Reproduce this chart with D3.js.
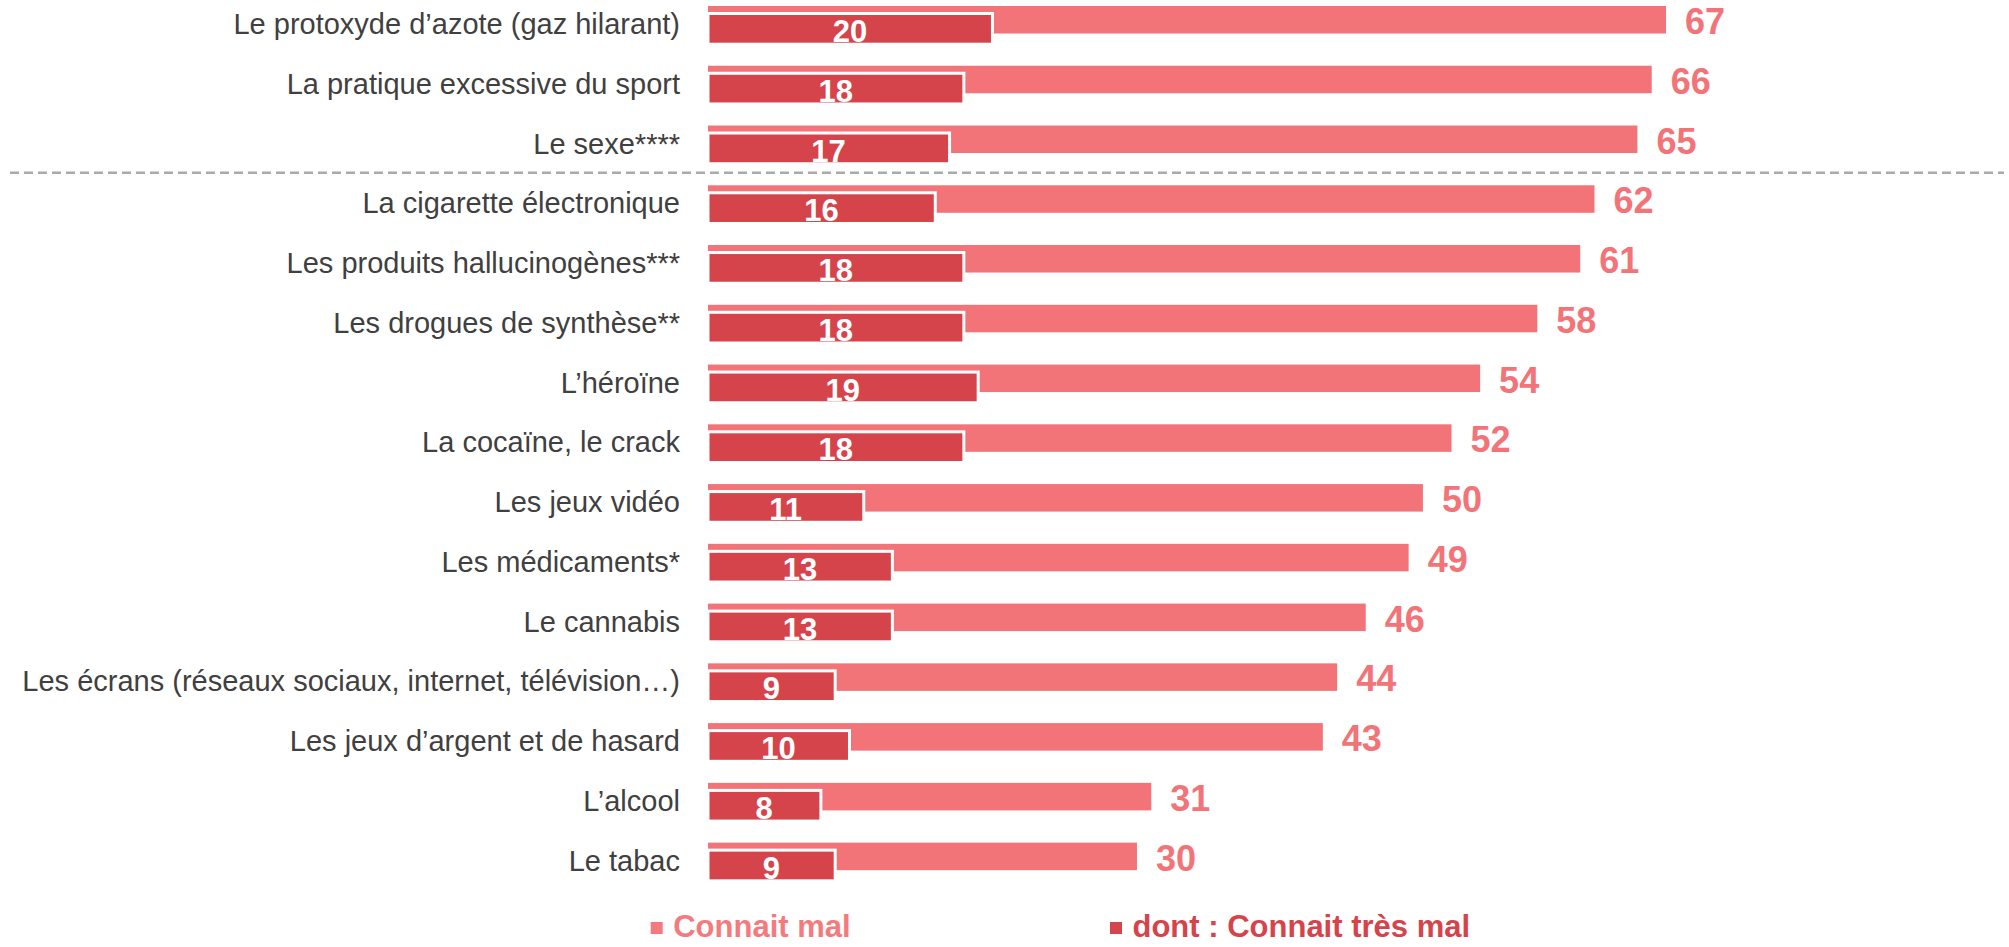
<!DOCTYPE html>
<html>
<head>
<meta charset="utf-8">
<script src="https://cdn.jsdelivr.net/npm/d3@7"></script>
<style>
  body { margin: 0; background: #fff; }
  svg { display: block; font-family: "Liberation Sans", Arial, sans-serif; }
</style>
</head>
<body>
<div id="bar-chart"></div>
<script>
var categories = [
    "Le protoxyde d\u2019azote (gaz hilarant)",
    "La pratique excessive du sport",
    "Le sexe****",
    "La cigarette \u00e9lectronique",
    "Les produits hallucinog\u00e8nes***",
    "Les drogues de synth\u00e8se**",
    "L\u2019h\u00e9ro\u00efne",
    "La coca\u00efne, le crack",
    "Les jeux vid\u00e9o",
    "Les m\u00e9dicaments*",
    "Le cannabis",
    "Les \u00e9crans (r\u00e9seaux sociaux, internet, t\u00e9l\u00e9vision\u2026)",
    "Les jeux d\u2019argent et de hasard",
    "L\u2019alcool",
    "Le tabac"
];
var connaitMal = [67, 66, 65, 62, 61, 58, 54, 52, 50, 49, 46, 44, 43, 31, 30];
var connaitTresMal = [20, 18, 17, 16, 18, 18, 19, 18, 11, 13, 13, 9, 10, 8, 9];
var seriesNames = ["Connait mal", "dont : Connait tr\u00e8s mal"];

var lightColor = "#f27378",
    darkColor = "#d6444b";

var width = 2009, height = 947;

var data = categories.map(function (c, i) {
    return { cat: c, mal: connaitMal[i], tresMal: connaitTresMal[i] };
});

var svg = d3.select("#bar-chart").append("svg")
    .attr("width", width)
    .attr("height", height);

// bars start at x=708, 67 reaches ~1666
var x = d3.scaleLinear()
    .domain([0, 67])
    .range([708, 1666]);

var y = d3.scaleBand()
    .domain(categories)
    .range([6, 6 + 15 * 59.76])
    .padding(0);

// dashed separator after the third item
svg.append("line")
    .attr("x1", 10)
    .attr("x2", 2004)
    .attr("y1", 172.7)
    .attr("y2", 172.7)
    .attr("stroke", "#aaaaaa")
    .attr("stroke-width", 2.5)
    .attr("stroke-dasharray", "9,5");

var rows = svg.selectAll(".row")
    .data(data)
    .enter().append("g")
    .attr("class", "row")
    .attr("transform", function (d) { return "translate(0," + y(d.cat) + ")"; });

rows.append("text")
    .attr("x", 680)
    .attr("y", 28)
    .attr("text-anchor", "end")
    .attr("fill", "#404040")
    .style("font-size", "29px")
    .text(function (d) { return d.cat; });

rows.append("rect")
    .attr("class", "bar")
    .attr("x", x(0))
    .attr("y", 0)
    .attr("width", function (d) { return x(d.mal) - x(0); })
    .attr("height", 27.5)
    .attr("fill", lightColor);

rows.append("rect")
    .attr("class", "bar-dark")
    .attr("x", x(0))
    .attr("y", 7.5)
    .attr("width", function (d) { return x(d.tresMal) - x(0) - 1.5; })
    .attr("height", 30.7)
    .attr("fill", darkColor)
    .attr("stroke", "#fff")
    .attr("stroke-width", 3);

rows.append("text")
    .attr("x", function (d) { return x(d.mal) + 19; })
    .attr("y", 28)
    .attr("fill", lightColor)
    .style("font-size", "36px")
    .style("font-weight", "bold")
    .text(function (d) { return d.mal; });

rows.append("text")
    .attr("x", function (d) { return (x(0) + x(d.tresMal)) / 2 - 1; })
    .attr("y", 36)
    .attr("text-anchor", "middle")
    .attr("fill", "#fff")
    .style("font-size", "31px")
    .style("font-weight", "bold")
    .text(function (d) { return d.tresMal; });

// legend
var legend = svg.selectAll(".legend")
    .data(seriesNames)
    .enter().append("g")
    .attr("class", "legend")
    .attr("transform", function (d, i) { return "translate(" + [650.7, 1110][i] + ",0)"; });

legend.append("rect")
    .attr("x", 0)
    .attr("y", 922)
    .attr("width", 12)
    .attr("height", 12)
    .attr("fill", function (d, i) { return i === 0 ? "#f47a7e" : darkColor; });

legend.append("text")
    .attr("x", 22.5)
    .attr("y", 937)
    .attr("fill", function (d, i) { return i === 0 ? "#f47a7e" : darkColor; })
    .style("font-size", "31px")
    .style("font-weight", "bold")
    .text(function (d) { return d; });
</script>
</body>
</html>
